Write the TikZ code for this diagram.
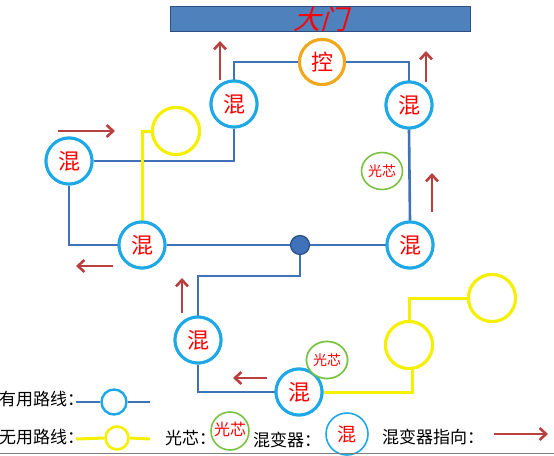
\documentclass[tikz,border=0pt]{standalone}
\usepackage{fontspec}
\setmainfont{Liberation Serif}
\newfontfamily\cjk{Noto Sans CJK SC}
\newfontfamily\cjkit[FakeSlant=0.3]{Noto Sans CJK SC}
\usetikzlibrary{arrows.meta,shapes.geometric}
\definecolor{cyanc}{HTML}{1EA8E6}
\definecolor{bluel}{HTML}{3F72B8}
\definecolor{arrowc}{HTML}{B8413F}
\definecolor{yel}{HTML}{F5F000}
\definecolor{orng}{HTML}{F2A81D}
\definecolor{grn}{HTML}{7CC242}
\definecolor{banner}{HTML}{4F81BD}
\definecolor{redt}{HTML}{FF0000}
\tikzset{
  mixer/.style={circle,draw=cyanc,line width=3pt,fill=white,minimum size=46pt,inner sep=0pt,text=redt,font=\cjk\fontsize{22}{22}\selectfont},
  ctrl/.style={circle,draw=orng,line width=3pt,fill=white,minimum size=45pt,inner sep=0pt,text=redt,font=\cjk\fontsize{22}{22}\selectfont},
  spare/.style={circle,draw=yel,line width=3pt,fill=white,minimum size=47pt,inner sep=0pt},
  core/.style={ellipse,draw=grn,line width=1.6pt,fill=white,minimum width=41pt,minimum height=37pt,inner sep=0pt,text=redt,font=\cjk\fontsize{14}{14}\selectfont},
  useful/.style={draw=bluel,line width=2.6pt},
  useless/.style={draw=yel,line width=3pt},
  dirarrow/.style={draw=arrowc,line width=2.8pt,-{Straight Barb[length=6.5pt,width=12pt,line width=2.6pt]}},
  legtext/.style={anchor=west,inner sep=0pt,text=black,font=\cjk\fontsize{17}{17}\selectfont},
}
\begin{document}
\begin{tikzpicture}[x=1pt,y=-1pt]
\useasboundingbox (0,0) rectangle (554,455);
% banner
\node[draw=bluel!70!black,fill=banner,line width=0.8pt,minimum width=300pt,minimum height=24pt,inner sep=0pt,text=redt,font=\cjkit\fontsize{27}{27}\selectfont] (gate) at (320,19) {大门};
% nodes
\node[ctrl] (ctl) at (322,62) {控};
\node[mixer] (m1) at (234,104) {混};
\node[mixer] (m2) at (409,105) {混};
\node[mixer] (m3) at (69,161) {混};
\node[spare] (y1) at (176,131) {};
\node[mixer] (m4) at (142,245) {混};
\node[mixer] (m5) at (410,245) {混};
\node[circle,draw=bluel!70!black,fill=bluel,line width=1.2pt,minimum size=19pt,inner sep=0pt] (dot) at (300,245) {};
\node[core] (c1) at (382,171) {光芯};
\node[mixer] (m6) at (198,340) {混};
\node[mixer] (m7) at (299,392) {混};
\node[core] (c2) at (327,360) {光芯};
\node[spare] (y2) at (409,345) {};
\node[spare] (y3) at (492,298) {};
% useful lines
\draw[useful] (m1.north) |- (ctl.west);
\draw[useful] (ctl.east) -| (m2.north);
\draw[useful] (m3.east) -| (m1.south);
\draw[useful] (m3.south) |- (m4.west);
\draw[useful] (m4.east) -- (dot.west);
\draw[useful] (dot.east) -- (m5.west);
\draw[useful] (m5.north) -- (m2.south);
\coordinate (k1) at (300,276);
\draw[useful] (dot.south) -- (k1) -| (m6.north);
\draw[useful] (m6.south) |- (m7.west);
% useless lines
\draw[useless] (y1.west) -| (m4.north);
\coordinate (k2) at (412,392);
\draw[useless] (m7.east) -- (k2) -- (k2|-y2.south);
\draw[useless] (y2.north) |- (y3.west);
% redraw nodes over lines
\node[mixer] at (m1) {混};
\node[mixer] at (m2) {混};
\node[mixer] at (m3) {混};
\node[mixer] at (m4) {混};
\node[mixer] at (m5) {混};
\node[mixer] at (m6) {混};
\node[mixer] at (m7) {混};
\node[ctrl] at (ctl) {控};
\node[spare] at (y1) {};
\node[spare] at (y2) {};
\node[spare] at (y3) {};
\node[core] at (c2) {光芯};
% arrows
\coordinate (a1s) at (220,80); \coordinate (a1e) at (220,41);
\coordinate (a2s) at (426,82); \coordinate (a2e) at (426,51);
\coordinate (a3s) at (58,131); \coordinate (a3e) at (115,131);
\coordinate (a4s) at (432,212); \coordinate (a4e) at (432,173);
\coordinate (a5s) at (113,266); \coordinate (a5e) at (76,266);
\coordinate (a6s) at (182,313); \coordinate (a6e) at (182,278);
\coordinate (a7s) at (267,378); \coordinate (a7e) at (233,378);
\draw[dirarrow] (a1s) -- (a1e);
\draw[dirarrow] (a2s) -- (a2e);
\draw[dirarrow] (a3s) -- (a3e);
\draw[dirarrow] (a4s) -- (a4e);
\draw[dirarrow] (a5s) -- (a5e);
\draw[dirarrow] (a6s) -- (a6e);
\draw[dirarrow] (a7s) -- (a7e);
% legend
\node[legtext] (l1) at (-1,399) {有用路线：};
\node[circle,draw=cyanc,line width=2.4pt,fill=white,minimum size=25pt,inner sep=0pt] (lc1) at (114,402) {};
\coordinate (l1s) at (76,402);
\coordinate (l1e) at (150,402);
\draw[useful] (l1s) -- (lc1.west);
\draw[useful] (lc1.east) -- (l1e);
\node[legtext] (l2) at (-1,437) {无用路线：};
\node[circle,draw=yel,line width=2.6pt,fill=white,minimum size=23pt,inner sep=0pt] (lc2) at (117,438) {};
\coordinate (l2e) at (150,439);
\coordinate (l2s) at (76,439);
\draw[useless] (l2s) -- (lc2.west);
\draw[useless] (lc2.east) -- (l2e);
\node[legtext] (l3) at (165,438) {光芯：};
\node[circle,draw=grn,line width=1.6pt,fill=white,minimum size=38pt,inner sep=0pt,text=redt,font=\cjk\fontsize{16}{16}\selectfont] (lcore) at (230,431) {\raisebox{5pt}{光芯}};
\node[legtext] (l4) at (253,440) {混变器：};
\node[circle,draw=cyanc,line width=1.6pt,fill=white,minimum size=42pt,inner sep=0pt,text=redt,font=\cjk\fontsize{19}{19}\selectfont] (lmix) at (347,434) {混};
\node[legtext] (l5) at (382,437) {混变器指向：};
\coordinate (l5s) at (494,434); \coordinate (l5e) at (548,434);
\draw[dirarrow] (l5s) -- (l5e);
\draw[gray,line width=1pt] (0,453.5) -- (554,453.5);
\end{tikzpicture}
\end{document}
